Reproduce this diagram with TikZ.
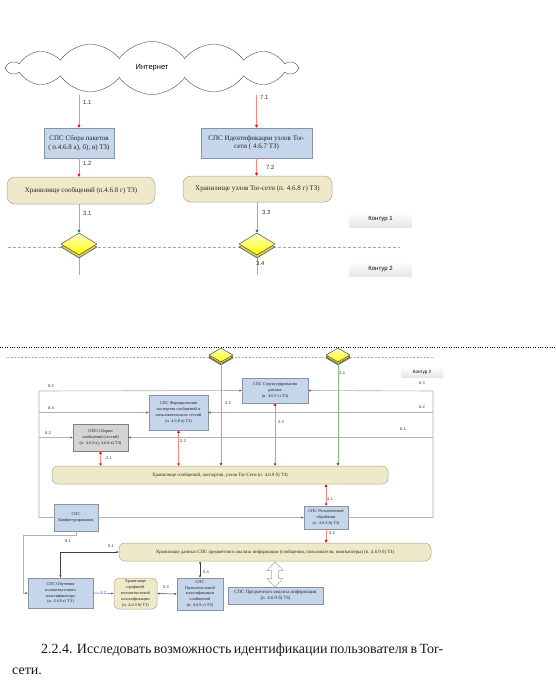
\documentclass[tikz,border=0pt]{standalone}
\usepackage{fontspec}
\setmainfont{Liberation Serif}
\setsansfont{Liberation Sans}
\usetikzlibrary{shapes.geometric,shapes.symbols,arrows.meta,shadows,calc}
\pgfdeclarelayer{bg}
\pgfdeclarelayer{paper}
\pgfsetlayers{paper,bg,main}
\definecolor{boxblue}{RGB}{197,214,234}
\definecolor{boxedge}{RGB}{135,148,165}
\definecolor{beige}{RGB}{238,233,200}
\definecolor{beigeedge}{RGB}{170,165,140}
\definecolor{opogray}{RGB}{212,212,212}
\definecolor{lred}{RGB}{250,135,135}
\definecolor{lgreen}{RGB}{125,200,125}
\definecolor{dgreen}{RGB}{20,140,20}
\definecolor{frameg}{RGB}{178,178,178}
\definecolor{dyellow}{RGB}{215,205,80}
\definecolor{lblue}{RGB}{60,90,255}
\newcommand\fntmid{\fontsize{7}{8.6}\selectfont}
\newcommand\fnttiny{\fontsize{4.3}{5.9}\selectfont}
\newcommand\fntstore{\fontsize{4.8}{6}\selectfont}
\tikzset{
  bluebox/.style={draw=boxedge, fill=boxblue, inner sep=0pt, align=center, line width=0.5pt, text=black!85},
  graybox/.style={bluebox, fill=opogray, draw=gray},
  store/.style={draw=beigeedge, fill=beige, rounded corners=7pt, inner sep=0pt, align=center, line width=0.5pt, text=black!85},
  dia/.style={diamond, draw=gray!60!black, line width=0.5pt, top color=yellow!20!white, bottom color=yellow, inner sep=0pt,
    general shadow={fill=dyellow, draw=gray!60!black, shadow yshift=-3pt}},
  sdia/.style={dia, general shadow={fill=dyellow, draw=gray!60!black, shadow yshift=-2pt}},
  redar/.style={draw=lred, line width=0.6pt, -{Triangle[length=3pt,width=3pt,color=red]}},
  redbi/.style={draw=lred, line width=0.6pt, {Triangle[length=2.5pt,width=2.5pt,color=red]}-{Triangle[length=2.5pt,width=2.5pt,color=red]}},
  greenar/.style={draw=lgreen, line width=0.6pt, -{Triangle[length=3pt,width=3pt,color=dgreen]}},
  greenln/.style={draw=lgreen, line width=0.6pt},
  gline/.style={draw=frameg, line width=0.6pt},
  garr/.style={gline, -{Stealth[length=2.5pt,width=2pt,color=black!70]}},
  blk/.style={draw=black!75, line width=0.5pt, {Stealth[length=2.5pt,width=2pt]}-{Stealth[length=2.5pt,width=2pt]}},
  lbl/.style={font=\sffamily\fontsize{6}{7}\selectfont, anchor=west, inner sep=0pt, text=black!80},
  slbl/.style={font=\sffamily\fontsize{4}{5}\selectfont, anchor=west, inner sep=0pt, text=black!80},
  kontur/.style={top color=white, bottom color=gray!20, inner sep=0pt, font=\sffamily\fontsize{6}{7}\selectfont},
  para/.style={anchor=base west, inner sep=0pt, font=\fontsize{14}{16}\selectfont, text=black!90},
}
\begin{document}
\begin{tikzpicture}[x=1pt,y=-1pt]
\begin{pgfonlayer}{paper}
\fill[white] (0,0) rectangle (556,686);
\end{pgfonlayer}
\useasboundingbox (0,0) rectangle (556,686);

% ---------- top part ----------
\node[cloud, draw=black!70, fill=white, cloud puffs=14, cloud puff arc=110, aspect=5.5,
      minimum width=289pt, minimum height=53pt, inner sep=0pt,
      font=\sffamily\fontsize{7.5}{9}\selectfont] (inet) at (152,68) {Интернет};

\node[bluebox, minimum width=70pt, minimum height=30pt, font=\fntmid] (b1) at (79,143)
  {СПС Сбора пакетов\\( п.4.6.8 а), б), в) ТЗ)};
\node[bluebox, minimum width=111pt, minimum height=30pt, font=\fntmid] (b7) at (256.5,143)
  {СПС Идентификации узлов Tor-\\сети ( 4.6.7 ТЗ)};
\node[store, minimum width=148pt, minimum height=27pt, font=\fntmid, rounded corners=8pt] (s1) at (81,190.5)
  {Хранилище сообщений (п.4.6.8 г) ТЗ)};
\node[store, minimum width=149pt, minimum height=26pt, font=\fntmid, rounded corners=8pt] (s7) at (257.5,189)
  {Хранилище узлов Tor-сети (п. 4.6.8 г) ТЗ)};
\node[dia, minimum width=36pt, minimum height=22pt] (d1) at (79,244) {};
\node[dia, minimum width=36pt, minimum height=22pt] (d2) at (257,244) {};

\node[kontur, minimum width=63pt, minimum height=15pt] (k1) at (380.5,219.5) {Контур 1};
\node[kontur, minimum width=63pt, minimum height=14pt] (k2) at (380.5,269) {Контур 2};

\coordinate (dl1) at (8,247);
\coordinate (dl2) at (400,247);
\coordinate (e1) at (79,275);
\coordinate (e2) at (257,275);

\begin{pgfonlayer}{bg}
  \draw[gray!70, dash pattern=on 3pt off 2pt, line width=0.5pt] (dl1) -- (dl2);
  \draw[greenln] (d1.south) -- (e1);
  \draw[greenln] (d2.south) -- (e2);
\end{pgfonlayer}

\draw[redar] (inet.south -| b1.north) -- (b1.north);
\draw[redar] (b1.south) -- (s1.north -| b1.south);
\draw[greenar] (s1.south -| d1.north) -- (d1.north);
\draw[redar] (inet.south -| b7.north) -- (b7.north);
\draw[redar] (b7.south) -- (s7.north -| b7.south);
\draw[greenar] (s7.south -| d2.north) -- (d2.north);

\node[lbl] (l11) at (83,102) {1.1};
\node[lbl] (l12) at (83,163) {1.2};
\node[lbl] (l31) at (83,213) {3.1};
\node[lbl] (l71) at (260,97) {7.1};
\node[lbl] (l72) at (266,167) {7.2};
\node[lbl] (l33) at (262,212) {3.3};
\node[lbl] (l34) at (256,263) {3.4};

% ---------- separator ----------
\coordinate (dot1) at (0,347);
\coordinate (dot2) at (556,347);
\draw[black, line width=0.8pt, dash pattern=on 0.8pt off 1.6pt] (dot1) -- (dot2);

% ---------- bottom part ----------
\coordinate (bd1) at (7,357);
\coordinate (bd2) at (434,357);
\node[sdia, minimum width=24pt, minimum height=14pt] (dd1) at (221,355) {};
\node[sdia, minimum width=24pt, minimum height=14pt] (dd2) at (338,355) {};
\node[kontur, minimum width=42pt, minimum height=10pt, font=\sffamily\fontsize{4.5}{5}\selectfont] (k2b) at (422,372) {Контур 2};

\node[bluebox, minimum width=66pt, minimum height=25pt, font=\fnttiny] (str) at (275,390.5)
  {СПС Структурирования\\данных\\(п. 4.6.9 г) ТЗ)};
\node[bluebox, minimum width=59pt, minimum height=35pt, font=\fnttiny] (form) at (178.5,412.5)
  {СПС Формирования\\паспортов сообщений и\\пользовательских сессий\\(п.  4.6.8 в) ТЗ)};
\node[graybox, minimum width=55pt, minimum height=27pt, font=\fnttiny] (opo) at (100.5,437.5)
  {ОПО Сборки\\сообщений (сессий)\\(п. 4.6.9 а), 4.6.8 в) ТЗ)};
\node[store, minimum width=336pt, minimum height=18pt, font=\fntstore, rounded corners=6pt] (S) at (220,475)
  {Хранилище сообщений, паспортов, узлов Tor-Сети (п.  4.6.9 б) ТЗ)};
\node[bluebox, minimum width=44pt, minimum height=23pt, font=\fnttiny] (reg) at (326,517.5)
  {СПС Регламентной\\обработки\\(п. 4.6.9 б) ТЗ)};
\node[bluebox, minimum width=44pt, minimum height=27pt, font=\fnttiny] (conf) at (76,517.5)
  {СПС\\Конфигурирования};
\node[store, minimum width=312pt, minimum height=18pt, font=\fntstore, rounded corners=6pt] (L) at (275,552)
  {Хранилище данных СПС предметного анализа информации (сообщения, пользователи, компьютеры) (п. 4.6.9 б) ТЗ)};
\node[bluebox, minimum width=65pt, minimum height=30pt, font=\fnttiny] (obuch) at (60.5,593)
  {СПС Обучения\\полнотекстового\\классификатора\\(п. 4.6.9 г) ТЗ)};
\node[store, minimum width=43pt, minimum height=31pt, font=\fnttiny, rounded corners=5pt] (prof) at (135.5,593.5)
  {Хранилище\\профилей\\полнотекстовой\\классификации\\(п. 4.6.9 б) ТЗ)};
\node[bluebox, minimum width=46pt, minimum height=32pt, font=\fnttiny] (polnot) at (200,594)
  {СПС\\Полнотекстовой\\классификации\\сообщений\\(п. 4.6.9 г) ТЗ)};
\node[bluebox, minimum width=95pt, minimum height=17pt, font=\fntstore] (pred) at (275.5,595.5)
  {СПС Предметного анализа информации\\(п. 4.6.9 б) ТЗ)};

% hollow double arrow between the two lower elements
\draw[draw=gray!70, fill=white, line width=0.5pt]
  (275,562) -- (283,570.5) -- (278.5,570.5) -- (278.5,578.5) -- (283,578.5) -- (275,587)
  -- (267,578.5) -- (271.5,578.5) -- (271.5,570.5) -- (267,570.5) -- cycle;

\coordinate (fl) at (39,391);
\coordinate (fr) at (433,391);
\coordinate (c81) at (23,535);

\begin{pgfonlayer}{bg}
  \draw[gray!65, dash pattern=on 2pt off 1.5pt, line width=0.5pt] (bd1) -- (bd2);
\end{pgfonlayer}

% frame / configuration lines
\draw[garr] (conf.west) -| (fl) -- (str.west);
\draw[garr] (fl |- form.west) -- (form.west);
\draw[garr] (fl |- opo.west) -- (opo.west);
\draw[garr] (conf.east) -- (reg.west);
\draw[garr] (reg.east) -| (fr) -- (str.east);
\draw[garr] (fr |- form.east) -- (form.east);
\draw[garr] (fr |- opo.east) -- (opo.east);
\draw[garr] (conf.south) |- (c81) |- (obuch.west);

% storage links
\draw[redbi] (opo.south) -- (S.north -| opo.south);
\draw[redbi] (form.south) -- (S.north -| form.south);
\draw[redbi] (str.south) -- (S.north -| str.south);
\draw[greenar] (dd1.south) -- (S.north -| dd1.south);
\draw[greenar] (dd2.south) -- (S.north -| dd2.south);
\draw[redbi] (S.south -| reg.north) -- (reg.north);
\draw[redar] (reg.south) -- (L.north -| reg.south);

\draw[blk] (L.west) -| (obuch.north);
\draw[draw=lblue, line width=0.6pt, -{Stealth[length=2.5pt,width=2pt,color=lblue]}] (obuch.east) -- (prof.west)
  node[midway, fill=white, inner sep=0.5pt, font=\sffamily\fontsize{4}{5}\selectfont, text=black!80] (l52) {5.2};
\draw[blk] (prof.east) -- (polnot.west);
\draw[blk] (L.south -| polnot.north) -- (polnot.north);

% labels
\node[slbl] (l85) at (48,386) {8.5};
\node[slbl] (l84) at (48,408) {8.4};
\node[slbl] (l82) at (45,433) {8.2};
\node[slbl] (l32) at (225,403) {3.2};
\node[slbl] (l22) at (180,441) {2.2};
\node[slbl] (l21) at (106,458) {2.1};
\node[slbl] (l23) at (278,422) {2.3};
\node[slbl] (l34b) at (339,373) {3.4};
\node[slbl] (l63) at (419,383) {6.3};
\node[slbl] (l62) at (419,407) {6.2};
\node[slbl] (l61) at (400,429) {6.1};
\node[slbl] (l41) at (327,499) {4.1};
\node[slbl] (l42) at (329,533) {4.2};
\node[slbl] (l81) at (65,541) {8.1};
\node[slbl] (l51) at (108,546) {5.1};
\node[slbl] (l53) at (163,587) {5.3};
\node[slbl] (l54) at (203,572) {5.4};

% ---------- text below ----------
\node[para] (p1) at (41,653)
  {\makebox[402pt][s]{2.2.4. Исследовать возможность идентификации пользователя в Tor-}};
\node[para] (p2) at (12,674) {сети.};
\end{tikzpicture}
\end{document}
